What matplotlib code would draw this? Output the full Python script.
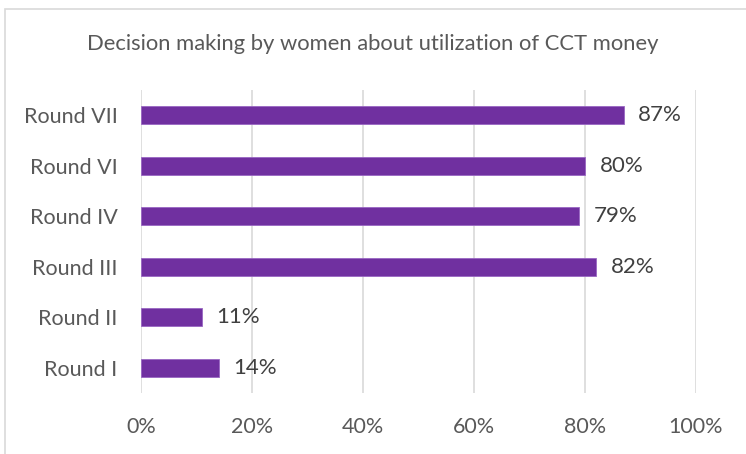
import matplotlib
matplotlib.use("Agg")
import matplotlib.pyplot as plt
from matplotlib.patches import Rectangle

categories = ["Round I", "Round II", "Round III", "Round IV", "Round VI", "Round VII"]
values = [14, 11, 82, 79, 80, 87]
xticks = [0, 20, 40, 60, 80, 100]
xtick_labels = ["0%", "20%", "40%", "60%", "80%", "100%"]

plt.rcParams['font.family'] = ['Lato', 'DejaVu Sans']
W, H = 746, 454
fig = plt.figure(figsize=(W/100, H/100), dpi=100)
ax = fig.add_axes([141/W, 1-393/H, (696-141)/W, (393-90)/H])

txt = "#595959"
ax.barh(range(len(categories)), values, height=0.36, color="#7030A0",
        edgecolor="#9966C2", linewidth=0.6, zorder=3)
for i, v in enumerate(values):
    ax.text(v + 2.6, i, f"{v}%", va="center", ha="left", fontsize=16, color="#404040")

ax.set_xlim(0, 100)
ax.set_ylim(-0.5, len(categories)-0.5)
ax.set_yticks(range(len(categories)))
ax.set_yticklabels(categories, fontsize=15.5, color=txt)
ax.set_xticks(xticks)
ax.set_xticklabels(xtick_labels, fontsize=15.5, color=txt)
ax.tick_params(axis='both', length=0)
ax.tick_params(axis='x', pad=17)
ax.tick_params(axis='y', pad=17)
ax.grid(axis='x', color="#D9D9D9", linewidth=1.2, zorder=0)
for s in ax.spines.values():
    s.set_visible(False)

fig.text(0.5, 1-44/H, "Decision making by women about utilization of CCT money",
         ha="center", va="center", fontsize=15.8, color=txt)

fig.patches.append(Rectangle((4.5/W, -0.1), 2, 1.1 - 8.5/H, transform=fig.transFigure,
                             fill=False, edgecolor="#D9D9D9", linewidth=1.2))
fig.savefig("out.png", dpi=100)
